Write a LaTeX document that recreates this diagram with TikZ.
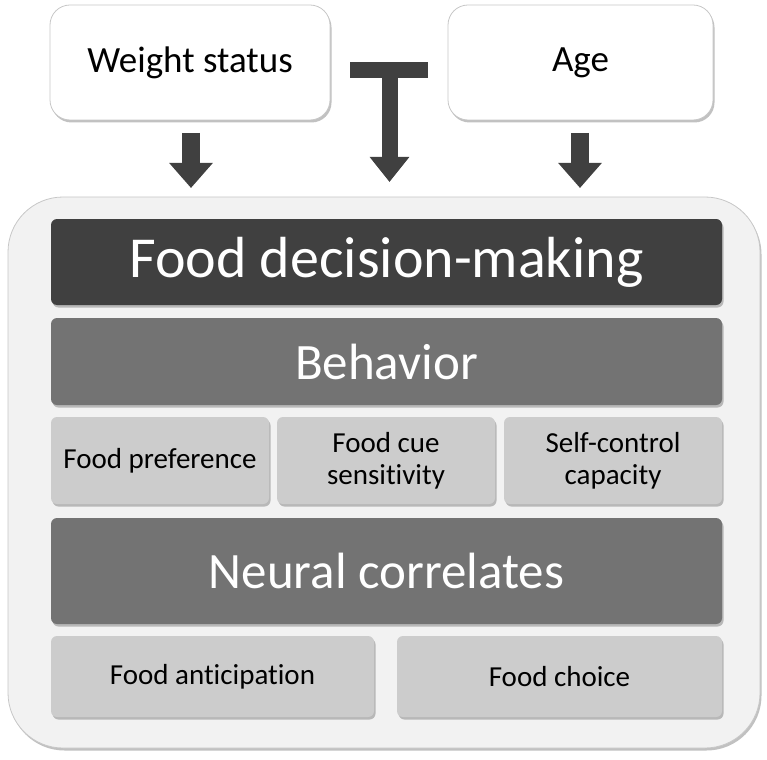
\documentclass[tikz,border=0pt]{standalone}
\usepackage{fontspec}
\setmainfont{Carlito}[Ligatures=NoCommon]
\usetikzlibrary{shadows,arrows.meta}
\definecolor{dk}{HTML}{404040}
\definecolor{midg}{HTML}{737373}
\definecolor{ltg}{HTML}{CCCCCC}
\definecolor{bgg}{HTML}{F2F2F2}
\begin{document}
\begin{tikzpicture}[x=1pt,y=-1pt,
  shd/.style={drop shadow={shadow xshift=1.5pt,shadow yshift=-2.5pt,opacity=0.35,fill=black!70}},
  box/.style={rounded corners=6pt, shd, inner sep=0pt, align=center, draw=none},
  topbox/.style={rounded corners=20pt, shd, fill=white, draw=black!22, line width=0.8pt, inner sep=0pt,
     minimum height=115pt, font=\fontsize{37}{44}\selectfont},
  bigbar/.style={box, minimum width=671pt, text=white},
  smallbox/.style={box, fill=ltg, font=\fontsize{29}{32}\selectfont, minimum height=87pt},
  fat/.style={draw=dk, line width=18pt, -{Triangle[length=25pt,width=42pt]}},
  fatmid/.style={draw=dk, line width=16pt, -{Triangle[length=25pt,width=38pt]}}
]
\useasboundingbox (0,0) rectangle (767,759);
% outer container
\node[shd, fill=bgg, draw=black!22, line width=0.8pt, rounded corners=55pt, minimum width=752pt, minimum height=551pt, inner sep=0pt] (outer) at (384,472.5) {};
% top boxes
\node[topbox, minimum width=280pt] (ws) at (190,62.5) {Weight status};
\node[topbox, minimum width=265pt] (age) at (580.5,62.5) {Age};
% layers
\node[bigbar, fill=dk, minimum height=86pt, font=\fontsize{58}{66}\selectfont] (fdm) at (386.5,262) {Food decision-making};
\node[bigbar, fill=midg, minimum height=87pt, font=\fontsize{51}{60}\selectfont] (beh) at (386.5,361.5) {Behavior};
\node[smallbox, minimum width=218pt] (fp) at (160,460.5) {Food preference};
\node[smallbox, minimum width=218pt] (fcs) at (386,460.5) {Food cue\\sensitivity};
\node[smallbox, minimum width=218pt] (scc) at (613,460.5) {Self-control\\capacity};
\node[bigbar, fill=midg, minimum height=106pt, font=\fontsize{51}{60}\selectfont] (nc) at (386.5,571) {Neural correlates};
\node[smallbox, minimum width=323pt, minimum height=81pt] (fa) at (212.5,676.5) {Food anticipation};
\node[smallbox, minimum width=325pt, minimum height=81pt] (fc) at (559.5,676.5) {Food choice};
% arrows
\coordinate (a1s) at (191,133);
\coordinate (a1e) at (191,188);
\coordinate (a3s) at (580,133);
\coordinate (a3e) at (580,188);
\node[fill=dk, minimum width=78pt, minimum height=16pt, inner sep=0pt] (tbar) at (389,70) {};
\coordinate (a2e) at (389.5,182);
\draw[fat] (a1s) -- (a1e);
\draw[fat] (a3s) -- (a3e);
\draw[fatmid] ([xshift=0.5pt]tbar.south) -- (a2e);
\end{tikzpicture}
\end{document}
